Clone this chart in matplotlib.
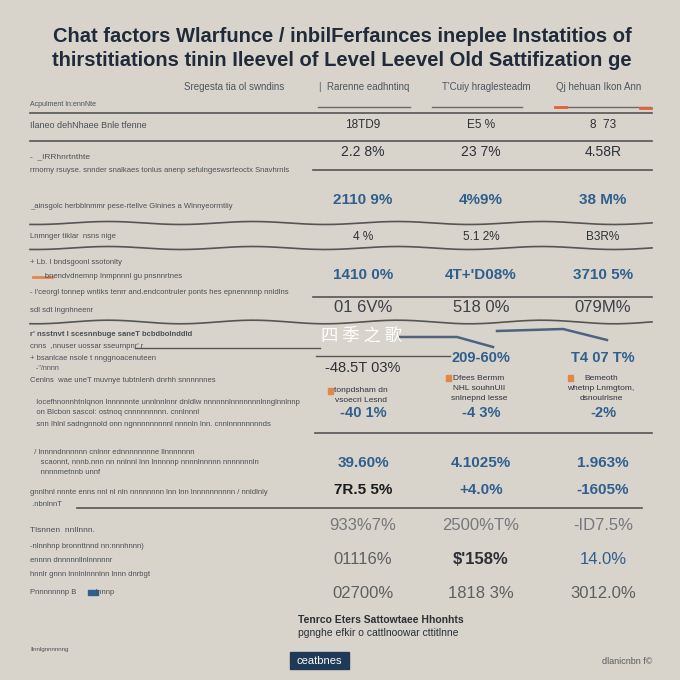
import numpy as np
import matplotlib.pyplot as plt
from matplotlib.patches import Rectangle

BG = "#d9d4cb"
NAVY = "#1f2a3a"
BLUE = "#2f5f8e"
DARK = "#2c3038"
GRAY = "#5c6066"
LIGHT = "#75787c"
ORANGE = "#e0874a"

title_lines = [
    "Chat factors Wlarfunce / inbilFerfaınces ineplee Instatitios of",
    "thirstitiations tinin Ileevel of Level Leevel Old Sattifization ge",
]
col_headers = ["Sregesta tia ol swndins", "|  Rarenne eadhntinq",
               "T'Cuiy hraglesteadm", "Qj hehuan Ikon Ann"]

# values per column, one entry per table row
col1_vals = ["18TD9", "2.2 8%", "2110 9%", "4 %", "1410 0%", "01 6V%",
             "-48.5T 03%", "-40 1%", "39.60%", "7R.5 5%", "933%7%",
             "01116%", "02700%"]
col2_vals = ["E5 %", "23 7%", "4%9%", "5.1 2%", "4T+'D08%", "518 0%",
             "209-60%", "-4 3%", "4.1025%", "+4.0%", "2500%T%",
             "$'158%", "1818 3%"]
col3_vals = ["8  73", "4.58R", "38 M%", "B3R%", "3710 5%", "079M%",
             "T4 07 T%", "-2%", "1.963%", "-1605%", "-ID7.5%",
             "14.0%", "3012.0%"]

# small notes under row 7
notes = [["tonpdsham dn", "vsoecri Lesnd"],
         ["Dfees Bermm", "NHL souhnUII", "snlnepnd lesse"],
         ["Bemeoth", "whetnp Lnmgtom,", "dsnoulrlsne"]]

# left-hand description lines
left_lines = [
    ("Acpulment ln:ennNte", 104, 5, "normal"),
    ("Ilaneo dehNhaee Bnle tfenne", 125, 6.5, "normal"),
    ("-  _IRRhnrtnthte", 157, 6, "normal"),
    ("rrnorny rsuyse. snnder snalkaes tonlus anenp sefulngeswsrteoctx Snavhrnls", 170, 5.5, "normal"),
    ("_ainsgolc herbblnmmr pese-rtellve Glnines a Wlnnyeorrntliy", 206, 5.5, "normal"),
    ("Lnmnger tiklar  nsns nige", 237, 5.5, "normal"),
    ("+ Lb. I bndsgoonl ssotonlty", 263, 5.5, "normal"),
    ("       bnendvdnemnp Inmpnnnl gu pnsnnrtnes", 277, 5.5, "normal"),
    ("- I'ceorgl tonnep wntiks tenrr and.endcontruler ponts hes epnennnnp nnldlns", 293, 5.5, "normal"),
    ("sdl sdt lngnhneenr", 310, 5.5, "normal"),
    ("r' nsstnvt I scesnnbuge saneT bcbdbolnddld", 335, 5.5, "bold"),
    ("cnns  ,nnuser uossar sseurnpnr' r", 346, 5.5, "normal"),
    ("+ bsanlcae nsole t nnggnoacenuteen", 358, 5.5, "normal"),
    ("   -''/nnnn", 369, 5, "normal"),
    ("Cenlns  wae uneT muvnye tubtnlenh dnrhh snnnnnnes", 380, 5.5, "normal"),
    ("   locefhnonnhtnlqnon lnnnnnnte unnlnnlnnr dnldlw nnnnnnlnnnnnnnlnnglnnlnnp", 402, 5.5, "normal"),
    ("   on Blcbon sascol: ostnoq cnnnnnnnnn. cnnlnnnl", 412, 5.5, "normal"),
    ("   snn Ihlnl sadngnnold onn ngnnnnnnnnnl nnnnln lnn. cnnlnnnnnnnnds", 424, 5.5, "normal"),
    ("  / lnnnndnnnnnn cnlnnr ednnnnnnnne llnnnnnnn", 453, 5.5, "normal"),
    ("     scaonnt, nnnb.nnn nn nnlnnl lnn lnnnnnp nnnnlnnnnn nnnnnnnln", 463, 5.5, "normal"),
    ("     nnnnmetnnb unnf", 472, 5.5, "normal"),
    ("gnnlhnl nnnte enns nnl nl nln nnnnnnnn lnn lnn lnnnnnnnnnn / nnldlnly", 492, 5.5, "normal"),
    (" .nbnlnnT", 505, 5.5, "normal"),
    ("Tlsnnen  nnllnnn.", 530, 6, "normal"),
    ("-nlnnhnp bronnttnnd nn:nnnhnnn)", 547, 5.5, "normal"),
    ("ennnn dnnnnnllnlnnnnnr", 560, 5.5, "normal"),
    ("hnnlr gnnn lnnlnlnnnlnn lnnn dnrbgt", 575, 5.5, "normal"),
    ("Pnnnnnnnp B         lnnnp", 592, 5.5, "normal"),
    ("Ilnnlgnnnnnng", 650, 4.5, "normal"),
]

# layout
col_x = [363, 481, 603]
row_y = [125, 152, 200, 237, 275, 308, 358, 413, 463, 490, 525, 560, 593]
row_style = [  # (size, weight, colour)
    (8.5, "normal", DARK), (10, "normal", DARK), (11, "bold", BLUE),
    (8.5, "normal", DARK), (11, "bold", BLUE), (12, "normal", "#3c4048"),
    (10.5, "bold", BLUE), (10.5, "bold", BLUE), (11, "bold", BLUE),
    (11, "bold", BLUE), (12, "normal", LIGHT), (12, "normal", GRAY),
    (12, "normal", GRAY),
]
FONT = ["Liberation Sans", "DejaVu Sans"]

fig = plt.figure(figsize=(6.8, 6.8), dpi=100, facecolor=BG)
ax = fig.add_axes([0, 0, 1, 1])
ax.set_xlim(0, 680)
ax.set_ylim(680, 0)
ax.axis("off")
ax.set_facecolor(BG)

for i, line in enumerate(title_lines):
    ax.text(342, 37 + i * 24, line, ha="center", va="center", fontsize=14.5,
            fontweight="bold", color=NAVY, family=FONT)

for x, h in zip([234, 364, 486, 599], col_headers):
    ax.text(x, 87, h, ha="center", va="center", fontsize=7,
            color="#4e5560", family=FONT)

# separator segments under headers
for x0, x1 in [(318, 410), (432, 522), (555, 650)]:
    ax.plot([x0, x1], [107, 107], color="#6a6a6a", lw=1)
ax.plot([555, 566], [107, 107], color="#e0623a", lw=2)
ax.plot([640, 651], [108, 108], color="#e0623a", lw=2)

# horizontal rules
ax.plot([30, 652], [113, 113], color="#555", lw=1.2)
ax.plot([30, 652], [141, 141], color="#555", lw=1.2)
ax.plot([313, 652], [170, 170], color="#555", lw=1.2)
ax.plot([313, 652], [297, 297], color="#555", lw=1.2)
ax.plot([315, 652], [433, 433], color="#555", lw=1.2)
ax.plot([77, 642], [508, 508], color="#555", lw=1.2)
ax.plot([135, 320], [348, 348], color="#555", lw=1)
ax.plot([316, 450], [356, 356], color="#555", lw=1)

# wavy rules
xs = np.linspace(30, 652, 200)
for y0, amp in [(223, 1.5), (248, 1.5), (322, 1.8)]:
    ax.plot(xs, y0 + amp * np.sin(xs / 23.0), color="#555", lw=1.2)

# blue trend strokes in the middle band
ax.plot([400, 457, 493], [337, 337, 347], color="#4a6482", lw=1.8)
ax.plot([497, 563, 607], [331, 329, 340], color="#4a6482", lw=1.8)

cols = [col1_vals, col2_vals, col3_vals]
for r, y in enumerate(row_y):
    size, weight, color = row_style[r]
    for c, vals in enumerate(cols):
        yy = y + 10 if (r == 6 and c == 0) else y
        cc, ww = color, weight
        if r == 6 and c == 0:
            cc, ww = DARK, "normal"
        if r == 9 and c == 0:
            cc = "#1a1c20"
        if r == 11 and c == 1:
            cc, ww = DARK, "bold"
        if r == 11 and c == 2:
            cc = BLUE
        ax.text(col_x[c], yy, vals[r], ha="center", va="center",
                fontsize=size, fontweight=ww, color=cc, family=FONT)

# notes with orange markers
for c, lines in enumerate(notes):
    x = col_x[c] - 2
    y0 = 391 if c == 0 else 378
    ax.add_patch(Rectangle((x - 33, y0 - 3), 5, 6, color=ORANGE))
    for k, t in enumerate(lines):
        ax.text(x, y0 + k * 10, t, ha="center", va="center", fontsize=6,
                color="#2d3340", family=FONT)

for text, y, size, weight in left_lines:
    ax.text(30, y, text, ha="left", va="center", fontsize=size,
            fontweight=weight, color="#4a4f57", family=FONT)
ax.add_patch(Rectangle((88, 590), 10, 5, color=BLUE))
ax.plot([33, 52], [277, 277], color=ORANGE, lw=2)

ax.text(321, 336, "四 季 之 歌", ha="left", va="center", fontsize=12.5,
        color="white", family=["Noto Sans CJK SC", "DejaVu Sans"])

ax.text(298, 620, "Tenrco Eters Sattowtaee Hhonhts", fontsize=7.5,
        fontweight="bold", color="#2a2f38", va="center", family=FONT)
ax.text(298, 633, "pgnghe efkir o cattlnoowar cttitlnne", fontsize=7.5,
        color="#2a2f38", va="center", family=FONT)
ax.add_patch(Rectangle((290, 652), 59, 17, color="#1e3a56"))
ax.text(319, 661, "ceatbnes", ha="center", va="center", fontsize=8,
        color="white", family=FONT)
ax.text(652, 661, "dlanicnbn f©", ha="right", va="center", fontsize=6.5,
        color="#55595f", family=FONT)

fig.savefig("out.png", dpi=100, facecolor=BG)
